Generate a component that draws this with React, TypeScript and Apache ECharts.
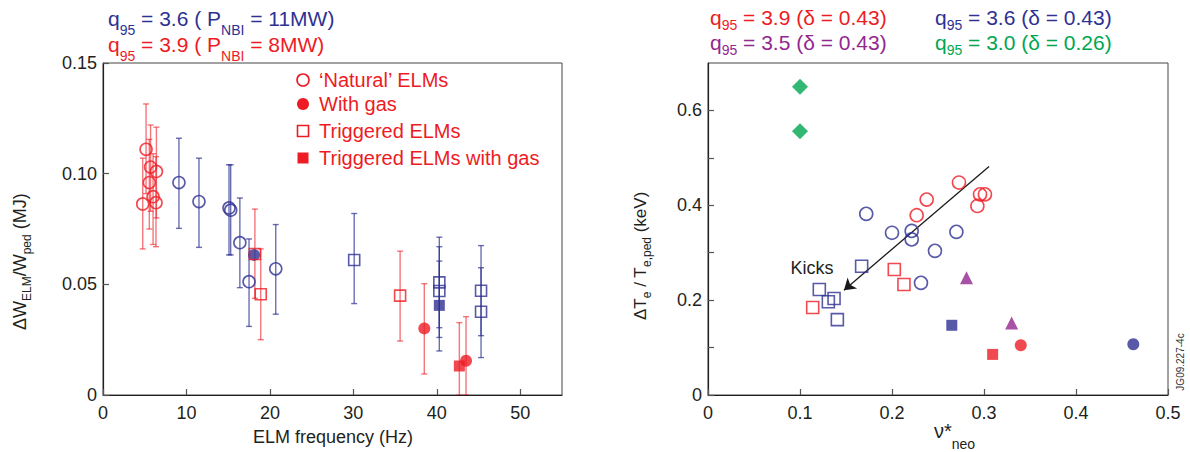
import React, { useEffect, useRef } from "react";
import * as echarts from "echarts";

const RED = "#ed1c24";
const BLUE = "#2e3192";
const PURPLE = "#92278f";
const GREEN = "#00a651";
const INK = "#231f20";
const FONT = "'Liberation Sans', Arial, Helvetica, sans-serif";

// ---------- Left panel: dW_ELM/W_ped vs ELM frequency ----------
const leftXTicks = [0, 10, 20, 30, 40, 50];
const leftYTicks = [0, 0.05, 0.1, 0.15];

// 'Natural' ELMs, q95 = 3.9 (red open circles)
const redNatF = [5.16, 5.55, 5.7, 6.0, 6.4, 4.76, 6.35];
const redNatW = [0.111, 0.096, 0.103, 0.0896, 0.101, 0.0863, 0.0869];
const redNatLo = [0.091, 0.075, 0.083, 0.068, 0.08, 0.066, 0.067];
const redNatHi = [0.1315, 0.1155, 0.122, 0.109, 0.121, 0.107, 0.1077];

// 'Natural' ELMs, q95 = 3.6 (blue open circles)
const blueNatF = [9.1, 11.5, 15.1, 15.3, 16.4, 17.5, 20.7];
const blueNatW = [0.096, 0.0874, 0.0845, 0.0835, 0.0688, 0.0512, 0.057];
const blueNatLo = [0.0753, 0.0667, 0.0633, 0.0633, 0.0485, 0.031, 0.0365];
const blueNatHi = [0.116, 0.107, 0.104, 0.104, 0.089, 0.0705, 0.077];

// With gas
const redGasF = [38.5, 43.5];
const redGasW = [0.0301, 0.0155];
const redGasLo = [0.0095, 0.0];
const redGasHi = [0.0503, 0.0354];
const blueGasF = [18.1];
const blueGasW = [0.0633];

// Triggered ELMs
const redTrigF = [18.2, 18.9, 35.6];
const redTrigW = [0.0637, 0.0455, 0.0449];
const redTrigLo = [0.0437, 0.025, 0.0244];
const redTrigHi = [0.084, 0.066, 0.065];
const blueTrigF = [30.1, 40.3, 40.3, 45.3, 45.3];
const blueTrigW = [0.061, 0.0509, 0.047, 0.0471, 0.0376];
const blueTrigLo = [0.0413, 0.0304, 0.026, 0.0268, 0.0169];
const blueTrigHi = [0.082, 0.0713, 0.067, 0.0675, 0.0575];

// Triggered ELMs with gas
const redTrigGasF = [42.7];
const redTrigGasW = [0.0131];
const redTrigGasLo = [0.0];
const redTrigGasHi = [0.0327];
const blueTrigGasF = [40.3];
const blueTrigGasW = [0.0405];
const blueTrigGasLo = [0.0199];
const blueTrigGasHi = [0.0605];

// ---------- Right panel: dTe/Te,ped vs nu*_neo ----------
const rightXTicks = [0, 0.1, 0.2, 0.3, 0.4, 0.5];
const rightYTicks = [0, 0.2, 0.4, 0.6];

const r39CircNu = [0.2728, 0.2377, 0.2268, 0.2957, 0.301, 0.2928];
const r39CircT = [0.448, 0.412, 0.379, 0.423, 0.423, 0.3985];
const b36CircNu = [0.172, 0.2, 0.2214, 0.2214, 0.27, 0.2467, 0.2315];
const b36CircT = [0.382, 0.342, 0.346, 0.328, 0.344, 0.304, 0.2365];
const b36SqNu = [0.167, 0.121, 0.1308, 0.137, 0.1406];
const b36SqT = [0.2716, 0.2225, 0.1965, 0.2035, 0.159];
const r39SqNu = [0.2025, 0.213, 0.1138];
const r39SqT = [0.2646, 0.233, 0.1846];
const b36FillSqNu = [0.265];
const b36FillSqT = [0.147];
const r39FillSqNu = [0.3094];
const r39FillSqT = [0.0856];
const r39FillCircNu = [0.34];
const r39FillCircT = [0.105];
const b36FillCircNu = [0.4623];
const b36FillCircT = [0.107];
const p35TriNu = [0.281, 0.33];
const p35TriT = [0.247, 0.152];
const g30DiaNu = [0.1, 0.1];
const g30DiaT = [0.65, 0.556];

const kicksArrow = [
  [0.3055, 0.482],
  [0.1478, 0.221],
];

const zip2 = (a: number[], b: number[]) => a.map((v, i) => [v, b[i]]);
const zip3 = (a: number[], b: number[], c: number[]) => a.map((v, i) => [v, b[i], c[i]]);

const hollow = (c: string, w = 1.6) => ({ color: "rgba(255,255,255,0)", borderColor: c, borderWidth: w });
const filled = (c: string) => ({ color: c, borderWidth: 0 });

function errBars(name: string, data: number[][], color: string) {
  return {
    type: "custom",
    name,
    xAxisIndex: 0,
    yAxisIndex: 0,
    clip: true,
    z: 1,
    silent: true,
    data,
    renderItem: (params: any, api: any) => {
      const x = api.value(0);
      const lo = api.value(1);
      const hi = api.value(2);
      const p1 = api.coord([x, lo]);
      const p2 = api.coord([x, hi]);
      const w = 3;
      const st = { stroke: color, lineWidth: 1.4 };
      return {
        type: "group",
        children: [
          { type: "line", shape: { x1: p1[0], y1: p1[1], x2: p2[0], y2: p2[1] }, style: st },
          { type: "line", shape: { x1: p1[0] - w, y1: p1[1], x2: p1[0] + w, y2: p1[1] }, style: st },
          { type: "line", shape: { x1: p2[0] - w, y1: p2[1], x2: p2[0] + w, y2: p2[1] }, style: st },
        ],
      };
    },
  };
}

function scat(name: string, data: number[][], symbol: string, size: number, itemStyle: any, axis: number) {
  return {
    type: "scatter",
    name,
    xAxisIndex: axis,
    yAxisIndex: axis,
    data,
    symbol,
    symbolSize: size,
    itemStyle,
    z: 3,
    silent: true,
  };
}

// rich text with subscripts: base tokens top-aligned, subscript tokens bottom-aligned in a taller line
function rtext(x: number, y: number, text: string, fill: string, opts: any = {}) {
  const big = opts.size ?? 21;
  const small = opts.sub ?? 14;
  const L1 = opts.L1 ?? 25;
  const L2 = opts.L2 ?? 29;
  return {
    type: "text",
    x,
    y,
    rotation: opts.rotation ?? 0,
    silent: true,
    style: {
      text,
      fill,
      fontFamily: FONT,
      fontSize: big,
      align: opts.align ?? "left",
      verticalAlign: opts.va ?? "top",
      rich: {
        b: { fontSize: big, lineHeight: big, verticalAlign: "top", fontFamily: FONT },
        s: { fontSize: small, lineHeight: L1, verticalAlign: "bottom", fontFamily: FONT },
        t: { fontSize: small, lineHeight: L2, verticalAlign: "bottom", fontFamily: FONT },
      },
    },
  };
}

function axisCommon(extra: any) {
  return {
    type: "value",
    axisLine: { show: true, onZero: false, lineStyle: { color: INK, width: 1.2 } },
    axisTick: { show: true, inside: true, length: 6, lineStyle: { color: "#555", width: 1.2 } },
    splitLine: { show: false },
    axisLabel: { color: INK, fontSize: 18, fontFamily: FONT },
    ...extra,
  };
}

const near = (v: number, list: number[]) => list.some((t) => Math.abs(t - v) < 1e-6);

export default function App() {
  const ref = useRef<HTMLDivElement>(null);
  useEffect(() => {
    if (!ref.current) return;
    const chart = echarts.init(ref.current, null, { renderer: "svg" });
    const legendX = 303;
    const legendTX = 319;
    const LF = 20;
    const option: any = {
      animation: false,
      backgroundColor: "#ffffff",
      grid: [
        { left: 103, top: 63, width: 459, height: 332, show: true, borderColor: "#444", borderWidth: 1 },
        { left: 708, top: 63, width: 460, height: 332, show: true, borderColor: "#444", borderWidth: 1 },
      ],
      xAxis: [
        axisCommon({
          gridIndex: 0,
          min: 0,
          max: 55,
          interval: 10,
          axisLabel: {
            color: INK,
            fontSize: 18,
            fontFamily: FONT,
            margin: 9,
            showMaxLabel: false,
            formatter: (v: number) => (near(v, leftXTicks) ? String(v) : ""),
          },
        }),
        axisCommon({
          gridIndex: 1,
          min: 0,
          max: 0.5,
          interval: 0.1,
          axisLabel: {
            color: INK,
            fontSize: 18,
            fontFamily: FONT,
            margin: 9,
            formatter: (v: number) => (near(v, rightXTicks) ? (v === 0 ? "0" : v.toFixed(1)) : ""),
          },
        }),
      ],
      yAxis: [
        axisCommon({
          gridIndex: 0,
          min: 0,
          max: 0.15,
          interval: 0.05,
          axisLabel: {
            color: INK,
            fontSize: 18,
            fontFamily: FONT,
            margin: 6,
            formatter: (v: number) => (near(v, leftYTicks) ? (Math.abs(v) < 1e-9 ? "0" : v.toFixed(2)) : ""),
          },
        }),
        axisCommon({
          gridIndex: 1,
          min: 0,
          max: 0.7,
          interval: 0.1,
          axisLabel: {
            color: INK,
            fontSize: 18,
            fontFamily: FONT,
            margin: 6,
            showMaxLabel: false,
            formatter: (v: number) => (near(v, rightYTicks) ? (Math.abs(v) < 1e-9 ? "0" : v.toFixed(1)) : ""),
          },
        }),
      ],
      series: [
        errBars("err-red-nat", zip3(redNatF, redNatLo, redNatHi), "rgba(237,28,36,0.6)"),
        errBars("err-blue-nat", zip3(blueNatF, blueNatLo, blueNatHi), "rgba(46,49,146,0.7)"),
        errBars("err-red-gas", zip3(redGasF, redGasLo, redGasHi), "rgba(237,28,36,0.6)"),
        errBars("err-red-trig", zip3(redTrigF, redTrigLo, redTrigHi), "rgba(237,28,36,0.6)"),
        errBars("err-blue-trig", zip3(blueTrigF, blueTrigLo, blueTrigHi), "rgba(46,49,146,0.7)"),
        errBars("err-red-trig-gas", zip3(redTrigGasF, redTrigGasLo, redTrigGasHi), "rgba(237,28,36,0.6)"),
        errBars("err-blue-trig-gas", zip3(blueTrigGasF, blueTrigGasLo, blueTrigGasHi), "rgba(46,49,146,0.7)"),
        scat("Natural q95=3.9", zip2(redNatF, redNatW), "circle", 12, hollow(RED), 0),
        scat("Natural q95=3.6", zip2(blueNatF, blueNatW), "circle", 12, hollow(BLUE), 0),
        scat("With gas q95=3.9", zip2(redGasF, redGasW), "circle", 12, filled(RED), 0),
        scat("With gas q95=3.6", zip2(blueGasF, blueGasW), "circle", 12, filled(BLUE), 0),
        scat("Triggered q95=3.9", zip2(redTrigF, redTrigW), "rect", 11, hollow(RED), 0),
        scat("Triggered q95=3.6", zip2(blueTrigF, blueTrigW), "rect", 11, hollow(BLUE), 0),
        scat("Triggered gas q95=3.9", zip2(redTrigGasF, redTrigGasW), "rect", 11, filled(RED), 0),
        scat("Triggered gas q95=3.6", zip2(blueTrigGasF, blueTrigGasW), "rect", 11, filled(BLUE), 0),

        {
          type: "lines",
          coordinateSystem: "cartesian2d",
          xAxisIndex: 1,
          yAxisIndex: 1,
          symbol: ["none", "arrow"],
          symbolSize: [0, 11],
          lineStyle: { color: "#1a1a1a", width: 1.3, opacity: 1 },
          data: [{ coords: kicksArrow }],
          silent: true,
          z: 2,
        },
        scat("q95=3.9 d=0.43 natural", zip2(r39CircNu, r39CircT), "circle", 13, hollow(RED), 1),
        scat("q95=3.6 d=0.43 natural", zip2(b36CircNu, b36CircT), "circle", 13, hollow(BLUE), 1),
        scat("q95=3.6 kicks", zip2(b36SqNu, b36SqT), "rect", 12, hollow(BLUE), 1),
        scat("q95=3.9 kicks", zip2(r39SqNu, r39SqT), "rect", 12, hollow(RED), 1),
        scat("q95=3.6 kicks gas", zip2(b36FillSqNu, b36FillSqT), "rect", 11, filled(BLUE), 1),
        scat("q95=3.9 kicks gas", zip2(r39FillSqNu, r39FillSqT), "rect", 11, filled(RED), 1),
        scat("q95=3.9 gas", zip2(r39FillCircNu, r39FillCircT), "circle", 12, filled(RED), 1),
        scat("q95=3.6 gas", zip2(b36FillCircNu, b36FillCircT), "circle", 12, filled(BLUE), 1),
        scat("q95=3.5 d=0.43", zip2(p35TriNu, p35TriT), "triangle", 13, filled(PURPLE), 1),
        scat("q95=3.0 d=0.26", zip2(g30DiaNu, g30DiaT), "diamond", 16, filled(GREEN), 1),
      ],
      graphic: [
        // left panel header
        rtext(108, 8, "{b|q}{s|95}{b| = 3.6 ( P}{t|NBI}{b| = 11MW)}", BLUE),
        rtext(108, 34, "{b|q}{s|95}{b| = 3.9 ( P}{t|NBI}{b| = 8MW)}", RED),
        // right panel header
        rtext(710, 7, "{b|q}{s|95}{b| = 3.9 (δ = 0.43)}", RED),
        rtext(935, 7, "{b|q}{s|95}{b| = 3.6 (δ = 0.43)}", BLUE),
        rtext(710, 32, "{b|q}{s|95}{b| = 3.5 (δ = 0.43)}", PURPLE),
        rtext(935, 32, "{b|q}{s|95}{b| = 3.0 (δ = 0.26)}", GREEN),
        // legend of left panel
        { type: "circle", silent: true, shape: { cx: legendX, cy: 80, r: 6 }, style: { fill: "none", stroke: RED, lineWidth: 1.6 } },
        { type: "circle", silent: true, shape: { cx: legendX, cy: 104, r: 6 }, style: { fill: RED } },
        { type: "rect", silent: true, shape: { x: legendX - 5.5, y: 131 - 5.5, width: 11, height: 11 }, style: { fill: "none", stroke: RED, lineWidth: 1.6 } },
        { type: "rect", silent: true, shape: { x: legendX - 5.5, y: 158 - 5.5, width: 11, height: 11 }, style: { fill: RED } },
        { type: "text", silent: true, x: legendTX, y: 80, style: { text: "‘Natural’ ELMs", fill: RED, fontSize: LF, fontFamily: FONT, verticalAlign: "middle" } },
        { type: "text", silent: true, x: legendTX, y: 104, style: { text: "With gas", fill: RED, fontSize: LF, fontFamily: FONT, verticalAlign: "middle" } },
        { type: "text", silent: true, x: legendTX, y: 131, style: { text: "Triggered ELMs", fill: RED, fontSize: LF, fontFamily: FONT, verticalAlign: "middle" } },
        { type: "text", silent: true, x: legendTX, y: 158, style: { text: "Triggered ELMs with gas", fill: RED, fontSize: LF, fontFamily: FONT, verticalAlign: "middle" } },
        // axis names
        rtext(11, 330, "{b|ΔW}{s|ELM}{b|/W}{s|ped}{b| (MJ)}", INK, { rotation: Math.PI / 2, size: 18, sub: 12, L1: 22, L2: 22 }),
        rtext(632, 320, "{b|ΔT}{s|e}{b| / T}{s|e,ped}{b| (keV)}", INK, { rotation: Math.PI / 2, size: 17, sub: 12, L1: 21, L2: 21 }),
        { type: "text", silent: true, x: 333, y: 437, style: { text: "ELM frequency (Hz)", fill: INK, fontSize: 18, fontFamily: FONT, align: "center", verticalAlign: "middle" } },
        rtext(934, 421, "{b|ν*}{t|neo}", INK, { size: 20, sub: 14, L2: 30 }),
        { type: "text", silent: true, x: 812, y: 268, style: { text: "Kicks", fill: INK, fontSize: 18, fontFamily: FONT, align: "center", verticalAlign: "middle" } },
        { type: "text", silent: true, x: 1180, y: 362, rotation: Math.PI / 2, style: { text: "JG09.227-4c", fill: "#333", fontSize: 10, fontFamily: FONT, align: "center", verticalAlign: "middle" } },
      ],
    };
    chart.setOption(option);
    return () => chart.dispose();
  }, []);
  return <div ref={ref} style={{ position: "fixed", left: 0, top: 0, width: 1190, height: 452 }} />;
}
